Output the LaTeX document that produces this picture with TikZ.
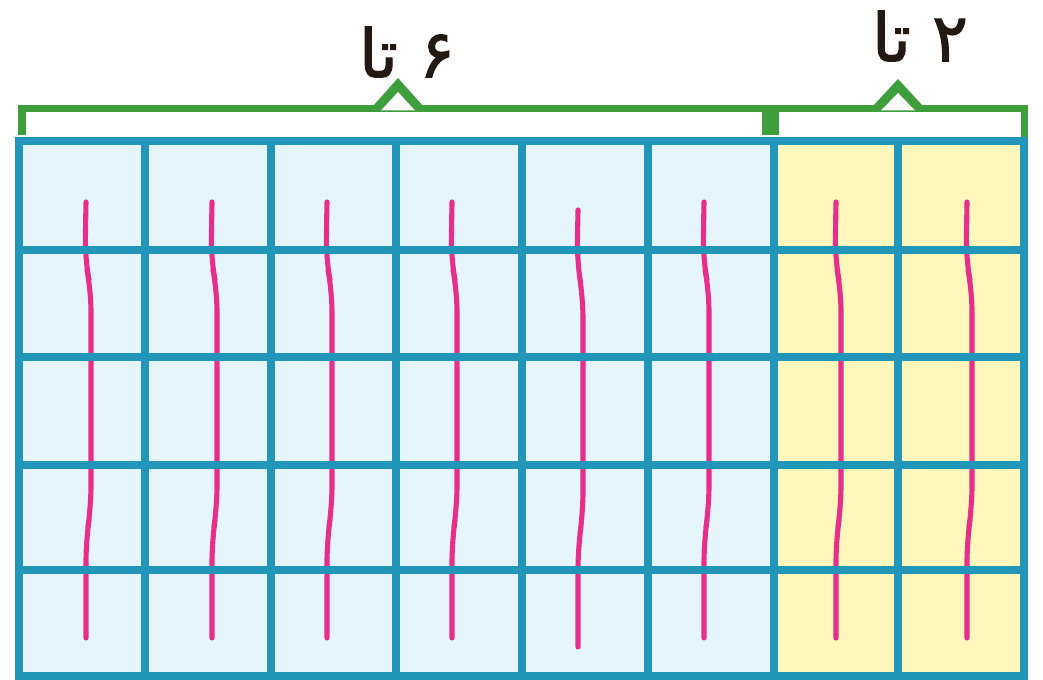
\documentclass[tikz,border=0pt]{standalone}
\usepackage{fontspec}
\newfontfamily\arabicfont[Script=Arabic, FakeBold=1.6]{DejaVu Sans}
\TeXXeTstate=1
\definecolor{gridblue}{HTML}{2196B9}
\definecolor{cellblue}{HTML}{E6F4FC}
\definecolor{cellyellow}{HTML}{FFF7BC}
\definecolor{stickpink}{HTML}{E62E8B}
\definecolor{bracegreen}{HTML}{3E9E3C}
\definecolor{textdark}{HTML}{231812}
\tikzset{
  gridline/.style={draw=gridblue, line width=2.3pt},
  brace/.style={draw=bracegreen, line width=2pt, line join=miter},
  stick/.style={draw=stickpink, line width=1.45pt, line cap=round, rounded corners=6pt},
  countlabel/.style={text=textdark, inner sep=0pt, font=\arabicfont\fontsize{19}{22}\selectfont}
}
\begin{document}
\begin{tikzpicture}[x=0.01cm, y=-0.01cm]
\useasboundingbox (0,0) rectangle (1043,680);
% cells
\fill[cellblue] (19,141) rectangle (774,676);
\fill[cellyellow] (774,141) rectangle (1024,676);
% sticks
\foreach \xa/\ya/\yb/\yc/\yd/\ye/\yf in {
   86/202/260/290/507/540/638,
  212/202/260/290/507/540/638,
  327/202/260/290/507/540/638,
  452/202/260/290/507/540/638,
  578/210/262/297/513/547/647,
  704/202/260/290/507/540/638,
  836/202/260/290/507/540/638,
  967/202/260/290/507/540/638}{
  \draw[stick] (\xa,\ya) -- (\xa-1,\yb) -- (\xa+5,\yc) -- (\xa+5,\yd) -- (\xa,\ye) -- (\xa,\yf);
}
% grid
\foreach \x in {19,145,271,396,522,648,774,898,1024}
  \draw[gridline] (\x,137) -- (\x,680);
\foreach \y in {141,250,357,465,570,676}
  \draw[gridline] (15,\y) -- (1028,\y);
% brackets
\draw[brace] (22,135) -- (22,108.5) -- (1024,108.5) -- (1024,137);
\fill[bracegreen] (762,108) rectangle (779,135);
\fill[bracegreen] (373,106) -- (398,78) -- (423,106) -- cycle;
\fill[white] (381,110.5) -- (398,92) -- (415,110.5) -- cycle;
\fill[bracegreen] (873,106) -- (898,79) -- (923,106) -- cycle;
\fill[white] (881,110.5) -- (898,93) -- (915,110.5) -- cycle;
% labels
\node[countlabel] (six) at (407,52) {\beginR ۶ تا\endR};
\node[countlabel] (two) at (920,36) {\beginR ۲ تا\endR};
\end{tikzpicture}
\end{document}
